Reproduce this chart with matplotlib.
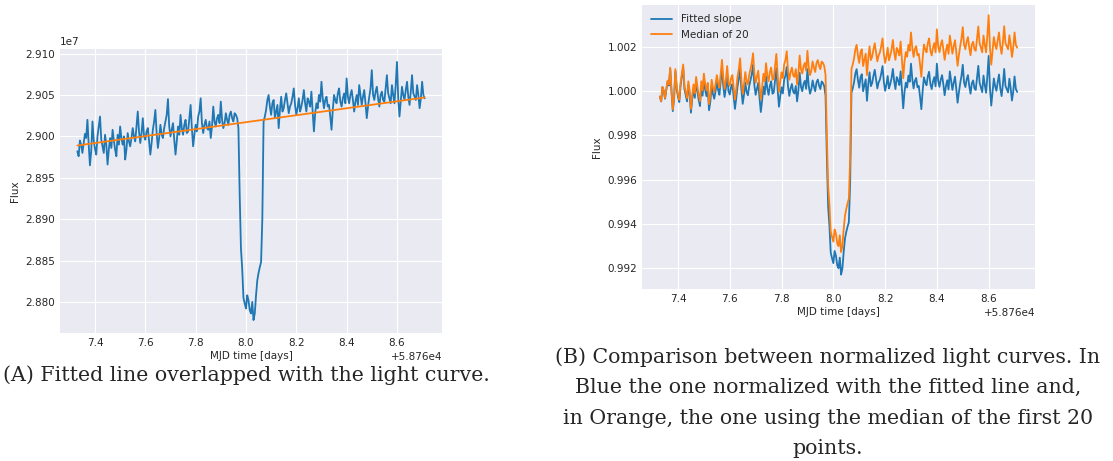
import numpy as np
import matplotlib
matplotlib.use('Agg')
import matplotlib.pyplot as plt

# time grid (MJD), one reading every 0.005 days
mjd = np.round(np.linspace(58767.33, 58768.71, 277), 3)

# raw flux, units of 1e7
flux = [2.8982, 2.8976, 2.8995, 2.8990, 2.8980, 2.8992, 2.9003, 2.8998, 2.9020, 2.8990,
        2.8965, 2.8982, 2.9018, 2.8995, 2.8985, 2.8978, 2.9000, 2.9012, 2.9024, 2.8996,
        2.8988, 2.8980, 2.9002, 2.8990, 2.8966, 2.8984, 2.8998, 2.8986, 2.9008, 2.8995,
        2.8984, 2.8976, 2.9002, 2.8990, 2.9012, 2.8998, 2.8990, 2.9000, 2.8972, 2.8984,
        2.9004, 2.8994, 2.8988, 2.8998, 2.9010, 2.9000, 2.8994, 2.9012, 2.9030, 2.9006,
        2.8992, 2.9004, 2.9022, 2.9000, 2.8996, 2.9006, 2.9010, 2.8994, 2.8978, 2.8992,
        2.9008, 2.9018, 2.9032, 2.9004, 2.8986, 2.8998, 2.9014, 2.9002, 2.8998, 2.9010,
        2.9018, 2.9026, 2.9045, 2.9012, 2.9000, 2.9008, 2.9016, 2.8996, 2.8978, 2.8994,
        2.9012, 2.9002, 2.9026, 2.9010, 2.9002, 2.9014, 2.9020, 2.9004, 2.9006, 2.9022,
        2.9038, 2.9010, 2.8988, 2.9002, 2.9014, 2.9006, 2.9024, 2.9030, 2.9046, 2.9016,
        2.9004, 2.9014, 2.9020, 2.9010, 2.9008, 2.9018, 2.8998, 2.9012, 2.9036, 2.9018,
        2.9012, 2.9022, 2.9026, 2.9016, 2.9042, 2.9020, 2.9010, 2.9016, 2.9028, 2.9020,
        2.9014, 2.9026, 2.9030, 2.9022, 2.9018, 2.9028, 2.9026, 2.9022, 2.9010, 2.8930,
        2.8865, 2.8840, 2.8805, 2.8798, 2.8792, 2.8808, 2.8802, 2.8790, 2.8786, 2.8800,
        2.8778, 2.8786, 2.8808, 2.8826, 2.8835, 2.8842, 2.8848, 2.8900, 2.9018, 2.9024,
        2.9032, 2.9044, 2.9050, 2.9036, 2.9026, 2.9040, 2.9044, 2.9022, 2.9030, 2.9038,
        2.9010, 2.9032, 2.9048, 2.9030, 2.9034, 2.9044, 2.9052, 2.9040, 2.9028, 2.9036,
        2.9040, 2.9048, 2.9058, 2.9038, 2.9026, 2.9034, 2.9046, 2.9030, 2.9036, 2.9044,
        2.9056, 2.9040, 2.9030, 2.9046, 2.9042, 2.9036, 2.9054, 2.9030, 2.9006, 2.9028,
        2.9040, 2.9034, 2.9050, 2.9042, 2.9066, 2.9046, 2.9034, 2.9044, 2.9048, 2.9036,
        2.9038, 2.9024, 2.9008, 2.9032, 2.9050, 2.9044, 2.9040, 2.9052, 2.9058, 2.9042,
        2.9036, 2.9046, 2.9052, 2.9040, 2.9070, 2.9048, 2.9040, 2.9050, 2.9056, 2.9044,
        2.9030, 2.9042, 2.9050, 2.9038, 2.9062, 2.9050, 2.9038, 2.9048, 2.9056, 2.9040,
        2.9022, 2.9036, 2.9048, 2.9058, 2.9080, 2.9050, 2.9044, 2.9054, 2.9060, 2.9046,
        2.9036, 2.9050, 2.9054, 2.9044, 2.9042, 2.9058, 2.9074, 2.9052, 2.9046, 2.9040,
        2.9062, 2.9050, 2.9040, 2.9062, 2.9090, 2.9046, 2.9024, 2.9042, 2.9060, 2.9050,
        2.9044, 2.9056, 2.9066, 2.9048, 2.9038, 2.9054, 2.9074, 2.9052, 2.9048, 2.9044,
        2.9062, 2.9050, 2.9034, 2.9046, 2.9066, 2.9050, 2.9046]

# fitted line end points
fit_t = [58767.33, 58768.71]
fit_flux = [2.8989, 2.9047]

# normalized with the fitted line
norm_fit = [0.99976, 0.99954, 1.00019, 1.00001, 0.99966, 1.00007, 1.00044, 1.00026, 1.00101, 0.99997,
            0.99910, 0.99968, 1.00091, 1.00011, 0.99976, 0.99951, 1.00026, 1.00067, 1.00108, 1.00010,
            0.99982, 0.99954, 1.00029, 0.99987, 0.99903, 0.99965, 1.00012, 0.99970, 1.00045, 1.00000,
            0.99961, 0.99933, 1.00022, 0.99980, 1.00055, 1.00006, 0.99978, 1.00011, 0.99914, 0.99954,
            1.00023, 0.99988, 0.99966, 1.00000, 1.00041, 1.00006, 0.99984, 1.00046, 1.00107, 1.00023,
            0.99974, 1.00015, 1.00076, 1.00000, 0.99985, 1.00019, 1.00032, 0.99976, 0.99920, 0.99968,
            1.00022, 1.00056, 1.00104, 1.00006, 0.99943, 0.99984, 1.00039, 0.99997, 0.99982, 1.00023,
            1.00049, 1.00076, 1.00120, 1.00027, 0.99984, 1.00011, 1.00038, 0.99969, 0.99906, 0.99960,
            1.00021, 0.99986, 1.00068, 1.00012, 0.99984, 1.00025, 1.00045, 0.99989, 0.99995, 1.00050,
            1.00104, 1.00007, 0.99930, 0.99978, 1.00018, 0.99990, 1.00051, 1.00071, 1.00110, 1.00022,
            0.99979, 1.00013, 1.00033, 0.99998, 0.99990, 1.00024, 0.99954, 1.00002, 1.00084, 1.00021,
            1.00000, 1.00033, 1.00047, 1.00011, 1.00100, 1.00024, 0.99989, 1.00009, 1.00049, 1.00021,
            1.00000, 1.00040, 1.00053, 1.00025, 1.00010, 1.00044, 1.00037, 1.00022, 0.99980, 0.99703,
            0.99478, 0.99391, 0.99270, 0.99245, 0.99223, 0.99278, 0.99257, 0.99214, 0.99200, 0.99248,
            0.99171, 0.99198, 0.99273, 0.99334, 0.99364, 0.99388, 0.99408, 0.99587, 0.99993, 1.00013,
            1.00040, 1.00080, 1.00100, 1.00051, 1.00016, 1.00064, 1.00077, 1.00000, 1.00027, 1.00054,
            0.99957, 1.00032, 1.00086, 1.00023, 1.00037, 1.00070, 1.00097, 1.00055, 1.00013, 1.00040,
            1.00053, 1.00080, 1.00114, 1.00044, 1.00002, 1.00029, 1.00069, 1.00013, 1.00033, 1.00060,
            1.00101, 1.00045, 1.00010, 1.00064, 1.00050, 1.00028, 1.00090, 1.00006, 0.99923, 0.99998,
            1.00039, 1.00017, 1.00071, 1.00043, 1.00125, 1.00056, 1.00013, 1.00047, 1.00060, 1.00018,
            1.00024, 0.99975, 0.99919, 1.00001, 1.00063, 1.00041, 1.00027, 1.00068, 1.00088, 1.00032,
            1.00010, 1.00044, 1.00064, 1.00022, 1.00125, 1.00048, 1.00020, 1.00053, 1.00073, 1.00031,
            0.99982, 1.00023, 1.00050, 1.00008, 1.00090, 1.00048, 1.00006, 1.00039, 1.00066, 1.00010,
            0.99948, 0.99995, 1.00036, 1.00069, 1.00120, 1.00040, 1.00019, 1.00053, 1.00073, 1.00024,
            0.99989, 1.00036, 1.00049, 1.00014, 1.00006, 1.00061, 1.00115, 1.00039, 1.00017, 0.99996,
            1.00071, 1.00029, 0.99993, 1.00069, 1.00160, 1.00012, 0.99935, 0.99997, 1.00058, 1.00023,
            1.00002, 1.00042, 1.00076, 1.00013, 0.99978, 1.00032, 1.00101, 1.00024, 1.00010, 0.99995,
            1.00057, 1.00014, 0.99958, 0.99999, 1.00067, 1.00011, 0.99997]

# normalized with the median of the first 20 points
norm_med = [0.99976, 0.99955, 1.00020, 1.00003, 0.99969, 1.00011, 1.00048, 1.00031, 1.00107, 1.00004,
            0.99917, 0.99976, 1.00100, 1.00020, 0.99986, 0.99962, 1.00038, 1.00079, 1.00121, 1.00024,
            0.99997, 0.99969, 1.00045, 1.00004, 0.99920, 0.99983, 1.00031, 0.99990, 1.00065, 1.00021,
            0.99983, 0.99955, 1.00045, 1.00004, 1.00080, 1.00031, 1.00004, 1.00038, 0.99942, 0.99982,
            1.00052, 1.00018, 0.99996, 1.00031, 1.00073, 1.00039, 1.00017, 1.00080, 1.00142, 1.00058,
            1.00010, 1.00052, 1.00114, 1.00038, 1.00024, 1.00059, 1.00073, 1.00017, 0.99962, 1.00011,
            1.00066, 1.00100, 1.00149, 1.00051, 0.99989, 1.00031, 1.00087, 1.00045, 1.00031, 1.00073,
            1.00100, 1.00128, 1.00172, 1.00080, 1.00038, 1.00066, 1.00093, 1.00025, 0.99963, 1.00017,
            1.00079, 1.00045, 1.00127, 1.00072, 1.00045, 1.00087, 1.00107, 1.00052, 1.00059, 1.00115,
            1.00169, 1.00073, 0.99997, 1.00045, 1.00086, 1.00059, 1.00121, 1.00141, 1.00181, 1.00094,
            1.00052, 1.00086, 1.00107, 1.00072, 1.00065, 1.00100, 1.00031, 1.00079, 1.00162, 1.00099,
            1.00080, 1.00113, 1.00128, 1.00093, 1.00183, 1.00107, 1.00073, 1.00093, 1.00135, 1.00107,
            1.00087, 1.00128, 1.00141, 1.00114, 1.00100, 1.00134, 1.00128, 1.00114, 1.00073, 0.99796,
            0.99572, 0.99486, 0.99366, 0.99341, 0.99320, 0.99375, 0.99356, 0.99313, 0.99300, 0.99349,
            0.99273, 0.99300, 0.99376, 0.99437, 0.99468, 0.99493, 0.99514, 0.99693, 1.00100, 1.00121,
            1.00149, 1.00189, 1.00210, 1.00162, 1.00128, 1.00177, 1.00190, 1.00114, 1.00142, 1.00170,
            1.00073, 1.00149, 1.00203, 1.00141, 1.00156, 1.00189, 1.00217, 1.00176, 1.00135, 1.00162,
            1.00176, 1.00204, 1.00239, 1.00169, 1.00128, 1.00155, 1.00197, 1.00140, 1.00162, 1.00189,
            1.00232, 1.00176, 1.00142, 1.00196, 1.00183, 1.00162, 1.00225, 1.00141, 1.00059, 1.00135,
            1.00177, 1.00156, 1.00210, 1.00183, 1.00266, 1.00198, 1.00155, 1.00190, 1.00204, 1.00162,
            1.00169, 1.00121, 1.00065, 1.00149, 1.00211, 1.00190, 1.00176, 1.00218, 1.00239, 1.00183,
            1.00162, 1.00197, 1.00218, 1.00176, 1.00280, 1.00203, 1.00177, 1.00210, 1.00231, 1.00189,
            1.00142, 1.00183, 1.00211, 1.00169, 1.00252, 1.00211, 1.00170, 1.00203, 1.00231, 1.00176,
            1.00115, 1.00162, 1.00204, 1.00238, 1.00290, 1.00210, 1.00190, 1.00225, 1.00245, 1.00198,
            1.00163, 1.00211, 1.00224, 1.00190, 1.00183, 1.00239, 1.00293, 1.00218, 1.00197, 1.00176,
            1.00252, 1.00211, 1.00176, 1.00252, 1.00344, 1.00196, 1.00120, 1.00183, 1.00245, 1.00210,
            1.00191, 1.00231, 1.00266, 1.00203, 1.00169, 1.00223, 1.00294, 1.00217, 1.00204, 1.00190,
            1.00253, 1.00210, 1.00155, 1.00197, 1.00266, 1.00210, 1.00197]

plt.style.use('seaborn-v0_8-darkgrid')
plt.rcParams['font.family'] = 'DejaVu Sans'
plt.rcParams['font.size'] = 7.5
plt.rcParams['axes.labelsize'] = 7.5
plt.rcParams['xtick.labelsize'] = 7.5
plt.rcParams['ytick.labelsize'] = 7.5
plt.rcParams['legend.fontsize'] = 7.5

fig = plt.figure(figsize=(11.13, 4.61), dpi=100)

ax1 = fig.add_axes([60/1113, 1 - 333/461, 382/1113, 284/461])
ax1.plot(mjd, np.array(flux) * 1e7, color='#1f77b4', lw=1.3)
ax1.plot(fit_t, np.array(fit_flux) * 1e7, color='#ff7f0e', lw=1.3)
ax1.set_xlabel('MJD time [days]', labelpad=2)
ax1.set_ylabel('Flux', labelpad=4)

ax2 = fig.add_axes([642/1113, 1 - 289/461, 393/1113, 284/461])
ax2.plot(mjd, norm_fit, color='#1f77b4', lw=1.3, label='Fitted slope')
ax2.plot(mjd, norm_med, color='#ff7f0e', lw=1.3, label='Median of 20')
ax2.set_ylim(0.99106, 1.0039)
ax2.set_xlabel('MJD time [days]', labelpad=2)
ax2.set_ylabel('Flux', labelpad=4)
ax2.legend(loc='upper left')

serif = ['DejaVu Serif']
fig.text(246/1113, 1 - 375/461, '(A) Fitted line overlapped with the light curve.',
         ha='center', va='center', fontsize=14.8, family=serif)
cap_b = ['(B) Comparison between normalized light curves. In',
         'Blue the one normalized with the fitted line and,',
         'in Orange, the one using the median of the first 20',
         'points.']
for i, line in enumerate(cap_b):
    fig.text(828/1113, 1 - (357 + 30.5*i)/461, line,
             ha='center', va='center', fontsize=14.8, family=serif)

fig.savefig('out.png', dpi=100)
